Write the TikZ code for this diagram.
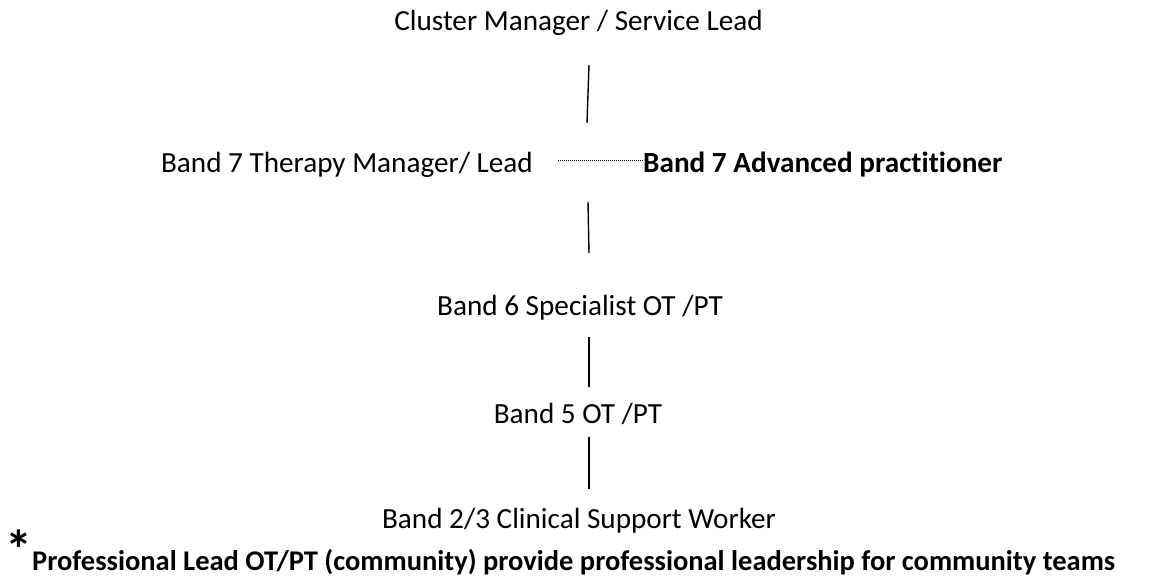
\documentclass[tikz,border=0pt]{standalone}
\usepackage{fontspec}
\setmainfont{Carlito}[Ligatures=NoCommon]
\begin{document}
\begin{tikzpicture}[x=1pt,y=-1pt,
  lbl/.style={anchor=base,inner sep=0pt,font=\fontsize{29.2}{31}\selectfont},
  bl/.style={anchor=base west,inner sep=0pt,font=\fontsize{29.2}{31}\selectfont\bfseries},
  conn/.style={line width=1.4pt}]
\useasboundingbox (0,0) rectangle (1157,588);
\node[lbl] (cm) at (578.5,31) {Cluster Manager / Service Lead};
\node[lbl,anchor=base east] (b7) at (533,173) {Band 7 Therapy Manager/ Lead};
\node[bl] (ap) at (643,173) {Band 7 Advanced practitioner};
\node[lbl] (b6) at (580,316) {Band 6 Specialist OT /PT};
\node[lbl] (b5) at (578,423) {Band 5 OT /PT};
\node[lbl] (b2) at (579,528) {Band 2/3 Clinical Support Worker};
\node[anchor=base west,inner sep=0pt,font=\fontsize{28.5}{31}\selectfont\bfseries] (pl) at (32,570)
  {\llap{\raisebox{2pt}{\fontsize{54}{54}\selectfont *}}Professional Lead OT/PT (community) provide professional leadership for community teams};
\coordinate (l1a) at (589,65); \coordinate (l1b) at (587,123);
\coordinate (l2a) at (588,202); \coordinate (l2b) at (589,253);
\coordinate (l3a) at (589,337); \coordinate (l3b) at (589,387);
\coordinate (l4a) at (589,437); \coordinate (l4b) at (589,489);
\coordinate (da) at (558,160);
\draw[conn] (l1a) -- (l1b);
\draw[conn] (l2a) -- (l2b);
\draw[conn] (l3a) -- (l3b);
\draw[conn] (l4a) -- (l4b);
\draw[line width=0.9pt,dash pattern=on 1pt off 1pt] (da) -- (da -| ap.west);
\end{tikzpicture}
\end{document}
